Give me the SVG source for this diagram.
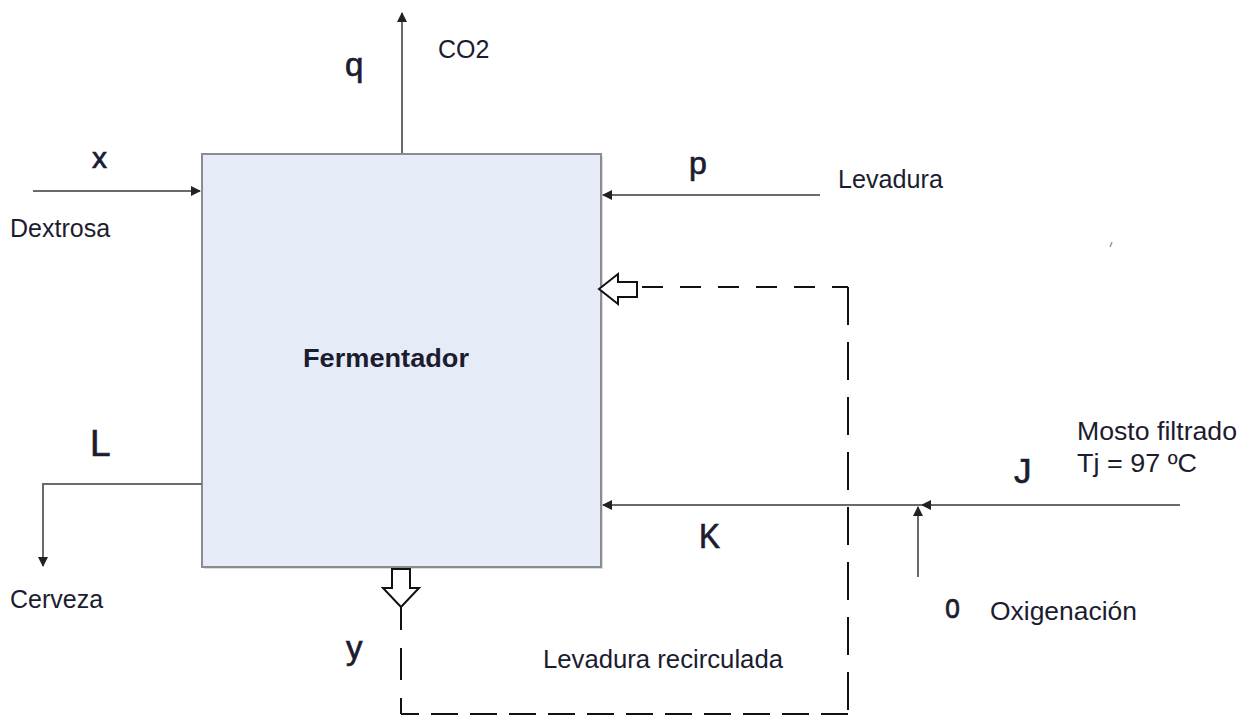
<svg xmlns="http://www.w3.org/2000/svg" width="1248" height="716" viewBox="0 0 1248 716">
<style>
.t{font-family:"Liberation Sans",Arial,sans-serif;fill:#1c1c30;font-size:25px}
.lb{font-family:"Liberation Sans",Arial,sans-serif;fill:#1c1c30;stroke:#1c1c30;stroke-width:0.7}
.ln{fill:none;stroke:#6a6a6a;stroke-width:2}
.ds{fill:none;stroke:#111;stroke-width:2}
.ha{fill:#fff;stroke:#111;stroke-width:2;stroke-linejoin:miter}
</style>
<defs>
<marker id="ah" viewBox="0 0 10 10" refX="9" refY="5" markerWidth="5" markerHeight="5" orient="auto" markerUnits="strokeWidth">
<path d="M0,0 L10,5 L0,10 z" fill="#222"/>
</marker>
</defs>
<rect width="1248" height="716" fill="#fff"/>
<g id="fermentador">
<rect x="204" y="156" width="399" height="413" fill="#b8bcc4" opacity="0.5"/>
<rect x="202" y="154" width="399" height="413" fill="#e6ecf7" stroke="#8c8c8c" stroke-width="2"/>
<text x="303" y="367" font-family="Liberation Sans, Arial, sans-serif" fill="#1c1c30" font-size="25" font-weight="bold" textLength="166" lengthAdjust="spacingAndGlyphs">Fermentador</text>
</g>
<g id="connectors">
<path class="ln" d="M402,153 V13" marker-end="url(#ah)"/>
<path class="ln" d="M33,191 H200" marker-end="url(#ah)"/>
<path class="ln" d="M820,195 H603" marker-end="url(#ah)"/>
<path class="ln" d="M202,484 H43 V566" marker-end="url(#ah)"/>
<path class="ln" d="M1180,505 H922" marker-end="url(#ah)"/>
<path class="ln" d="M922,505 H603" marker-end="url(#ah)"/>
<path class="ln" d="M918,577 V507" marker-end="url(#ah)"/>
<path class="ds" d="M642,287 H848" stroke-dasharray="21 17"/>
<path class="ds" d="M848,287 V714" stroke-dasharray="38 17"/>
<path class="ds" d="M848,714 H401" stroke-dasharray="27 12"/>
<path class="ds" d="M401,714 V607" stroke-dasharray="16 18 32 18 23"/>
<polygon class="ha" points="599,289 618,274 618,282 637,282 637,297 618,297 618,304"/>
<polygon class="ha" points="392,569 410,569 410,588 419,588 401,607 383,588 392,588"/>
<path d="M1112,242 L1110,247" stroke="#999" stroke-width="1.5"/>
</g>
<g id="labels">
<text class="lb" x="345" y="76" font-size="33">q</text>
<text class="t" x="438" y="58" font-size="24">CO2</text>
<text class="lb" x="92" y="168" font-size="30">x</text>
<text class="t" x="10" y="237">Dextrosa</text>
<text class="lb" x="689" y="174" font-size="32">p</text>
<text class="t" x="838" y="188" textLength="105" lengthAdjust="spacingAndGlyphs">Levadura</text>
<text class="lb" x="90" y="456" font-size="37">L</text>
<text class="t" x="10" y="608">Cerveza</text>
<text class="lb" x="346" y="659" font-size="33">y</text>
<text class="t" x="543" y="668" textLength="240" lengthAdjust="spacingAndGlyphs">Levadura recirculada</text>
<text class="lb" x="699" y="548" font-size="35" textLength="21" lengthAdjust="spacingAndGlyphs">K</text>
<text class="lb" x="1014" y="483" font-size="35">J</text>
<text class="t" x="1077" y="440" textLength="160" lengthAdjust="spacingAndGlyphs">Mosto filtrado</text>
<text class="t" x="1077" y="472" textLength="120" lengthAdjust="spacingAndGlyphs">Tj = 97 ºC</text>
<text class="lb" x="945" y="618" font-size="35" textLength="15" lengthAdjust="spacingAndGlyphs">o</text>
<text class="t" x="990" y="620" textLength="147" lengthAdjust="spacingAndGlyphs">Oxigenación</text>
</g>
</svg>
